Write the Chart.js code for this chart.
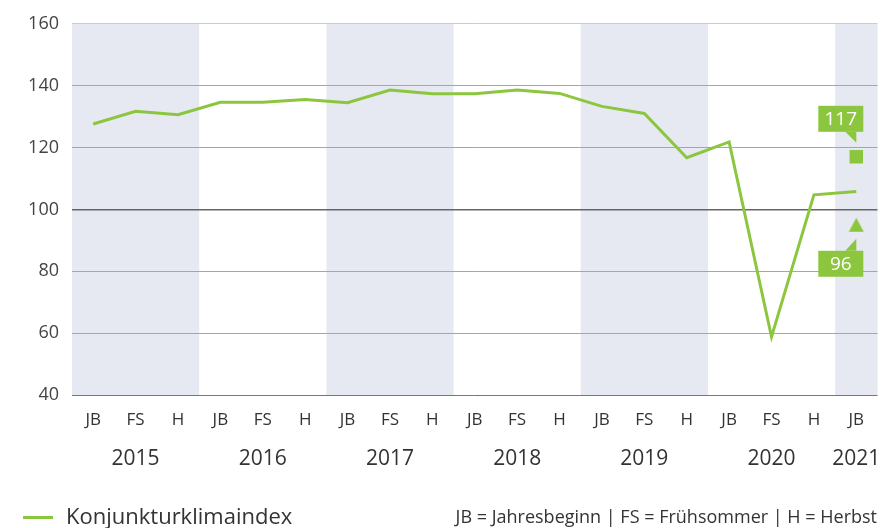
<!DOCTYPE html>
<html>
<head>
<meta charset="utf-8">
<script src="https://cdn.jsdelivr.net/npm/chart.js@4.4.0/dist/chart.umd.min.js"></script>
<style>
  body { margin: 0; background: #fff; }
  #wrap { position: relative; width: 887px; height: 528px; }
  .note { position: absolute; right: 10px; top: 504px; font: 18px "Open Sans", sans-serif; color: #333; white-space: nowrap; }
  .legend { position: absolute; left: 23px; top: 500px; font: 22px "Open Sans", sans-serif; color: #333; white-space: nowrap; }
  .legend i { display: inline-block; width: 30px; height: 3px; background: #8cc63f; vertical-align: middle; margin-right: 13px; position: relative; top: -1px; }
</style>
</head>
<body>
<div id="wrap">
  <canvas id="myChart" width="887" height="528"></canvas>
  <div class="legend"><i></i>Konjunkturklimaindex</div>
  <div class="note">JB = Jahresbeginn | FS = Frühsommer | H = Herbst</div>
</div>
<script>
// Saisonkategorien
const categories = ['JB', 'FS', 'H', 'JB', 'FS', 'H', 'JB', 'FS', 'H', 'JB', 'FS', 'H', 'JB', 'FS', 'H', 'JB', 'FS', 'H', 'JB'];
const yearLabels = ['', '2015', '', '', '2016', '', '', '2017', '', '', '2018', '', '', '2019', '', '', '2020', '', '2021'];
const klimaindex = [127.6, 131.7, 130.6, 134.6, 134.6, 135.5, 134.5, 138.6, 137.4, 137.4, 138.6, 137.5, 133.3, 131, 116.7, 121.8, 58.8, 104.7, 105.8];
const aktuellWert = 117;   // Quadrat
const prognoseWert = 96;   // Dreieck
const yTicks = [40, 60, 80, 100, 120, 140, 160];
// schattierte Jahre (Index erste / letzte Kategorie)
const shadedYears = [[0, 2], [6, 8], [12, 14], [18, 18]];

const green = '#8cc63f';
const band = '#e6e9f1';

const lastIdx = categories.length - 1;
const onlyLast = v => categories.map((c, i) => i === lastIdx ? v : null);

// Dreieck etwas nach unten versetzt wie im Original
const tri = document.createElement('canvas');
tri.width = 16; tri.height = 30;
const tctx = tri.getContext('2d');
tctx.fillStyle = green;
tctx.beginPath();
tctx.moveTo(8, 11);
tctx.lineTo(15.5, 25);
tctx.lineTo(0.5, 25);
tctx.closePath();
tctx.fill();

const bandsPlugin = {
  id: 'bands',
  beforeDraw(chart) {
    const { ctx, chartArea, scales } = chart;
    const x = scales.x;
    const half = (x.getPixelForValue(1) - x.getPixelForValue(0)) / 2;
    ctx.save();
    ctx.fillStyle = band;
    for (const [a, b] of shadedYears) {
      const left = Math.max(chartArea.left, x.getPixelForValue(a) - half);
      const right = Math.min(chartArea.right, x.getPixelForValue(b) + half);
      ctx.fillRect(left, chartArea.top, right - left, chartArea.bottom - chartArea.top);
    }
    ctx.restore();
  }
};

const calloutPlugin = {
  id: 'callouts',
  afterDatasetsDraw(chart) {
    const ctx = chart.ctx;
    chart.data.datasets.forEach((ds, i) => {
      if (!ds.callout) return;
      const pt = chart.getDatasetMeta(i).data[lastIdx];
      const x = pt.x, y = pt.y;
      const above = ds.callout === 'above';
      const boxW = 45, boxH = 26;
      const bx = x - 38;
      const by = above ? y - 51 : y + 29;
      ctx.save();
      ctx.fillStyle = green;
      ctx.fillRect(bx, by, boxW, boxH);
      ctx.beginPath();
      if (above) {
        ctx.moveTo(x - 11, by + boxH); ctx.lineTo(x, by + boxH); ctx.lineTo(x, y - 14);
      } else {
        ctx.moveTo(x - 11, by); ctx.lineTo(x, by); ctx.lineTo(x, y + 17);
      }
      ctx.closePath();
      ctx.fill();
      ctx.fillStyle = '#fff';
      ctx.font = '19px "Open Sans", sans-serif';
      ctx.textAlign = 'center';
      ctx.textBaseline = 'middle';
      ctx.fillText(String(ds.data[lastIdx]), bx + boxW / 2, by + boxH / 2 + 1);
      ctx.restore();
    });
  }
};

Chart.defaults.font.family = "'Open Sans', sans-serif";
Chart.defaults.color = '#333';

const ctx = document.getElementById('myChart').getContext('2d');
const myChart = new Chart(ctx, {
  type: 'line',
  data: {
    labels: categories,
    datasets: [
      {
        label: 'Konjunkturklimaindex',
        data: klimaindex,
        borderColor: green,
        backgroundColor: green,
        borderWidth: 3,
        pointRadius: 0,
        tension: 0
      },
      {
        label: 'aktuell',
        data: onlyLast(aktuellWert),
        pointStyle: 'rect',
        pointRadius: 9.5,
        backgroundColor: green,
        borderColor: green,
        borderWidth: 0,
        showLine: false,
        callout: 'above'
      },
      {
        label: 'Prognose',
        data: onlyLast(prognoseWert),
        pointStyle: tri,
        backgroundColor: green,
        borderColor: green,
        showLine: false,
        callout: 'below'
      }
    ]
  },
  options: {
    responsive: false,
    animation: false,
    layout: { padding: { left: 13, right: 0, top: 12, bottom: 43 } },
    plugins: {
      tooltip: { enabled: false },
      legend: { display: false }
    },
    scales: {
      x: {
        offset: true,
        grid: { display: false },
        border: { display: false },
        ticks: { autoSkip: false, maxRotation: 0, padding: 7, font: { size: 17 }, color: '#333' },
        afterFit: s => { s.height = 40; }
      },
      x2: {
        type: 'category',
        labels: yearLabels,
        position: 'bottom',
        offset: true,
        grid: { display: false },
        border: { display: false },
        ticks: { autoSkip: false, maxRotation: 0, padding: 3, font: { size: 21 }, color: '#333' },
        afterFit: s => { s.height = 50; }
      },
      y: {
        min: 40,
        max: 160,
        afterBuildTicks: s => { s.ticks = yTicks.map(v => ({ value: v })); },
        border: { display: false },
        grid: {
          drawTicks: false,
          color: c => c.tick.value === 160 ? '#c8ccd2' : (c.tick.value === 100 ? '#666' : (c.tick.value === 40 ? '#777' : '#a6a6a6')),
          lineWidth: c => c.tick.value === 100 ? 1.5 : 1
        },
        ticks: { padding: 13, font: { size: 18 }, color: '#444' },
        afterFit: s => { s.width = 59; }
      }
    }
  },
  plugins: [bandsPlugin, calloutPlugin]
});
</script>
</body>
</html>
